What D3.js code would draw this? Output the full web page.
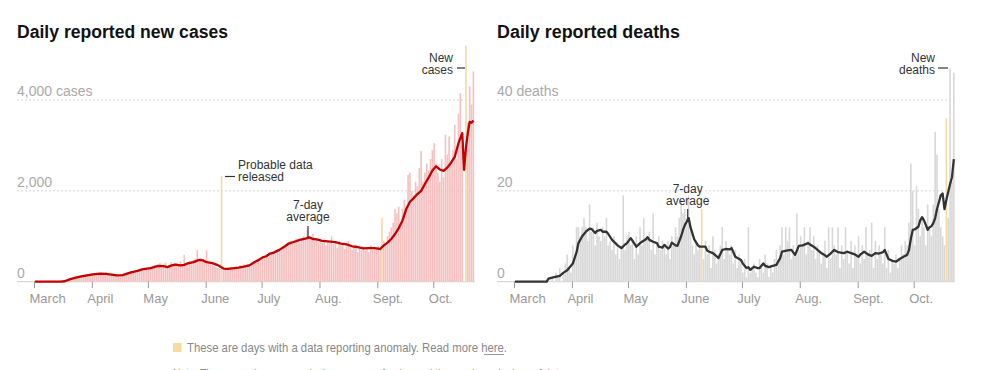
<!DOCTYPE html>
<html><head><meta charset="utf-8">
<script src="https://cdn.jsdelivr.net/npm/d3@7"></script>
<style>
body{margin:0;background:#fff;}
svg{display:block;font-family:"Liberation Sans",Arial,sans-serif;}
</style>
</head><body>
<svg id="c" width="1000" height="370"></svg>
<script>
// ---------- DATA ----------
const monthLabels = ["March","April","May","June","July","Aug.","Sept.","Oct."];

// Daily new cases, Mar 1 .. Oct 22 (236 days)
const casesDaily = [
  0,0,0,0,0,0,0,0,0,2,3,5,8,12,20,30,45,60,70,85,95,110,120,125,140,150,135,160,170,155,180,
  190,175,200,185,170,195,180,210,175,165,180,160,150,140,135,150,140,160,155,170,190,210,220,200,240,230,260,250,290,270,
  300,290,330,360,310,370,410,330,380,420,300,350,430,380,400,410,350,440,390,590,420,400,460,410,480,510,700,490,530,460,480,
  690,420,390,360,340,320,300,280,2330,250,270,290,300,310,280,330,320,300,360,340,380,350,400,390,420,450,430,480,470,510,
  520,560,600,540,580,620,650,600,700,680,720,750,800,780,850,900,830,880,950,900,870,960,1000,920,1150,980,950,1050,900,930,880,
  920,860,950,800,900,850,1000,830,870,750,900,800,850,720,780,900,760,700,800,820,650,750,700,780,690,760,650,800,700,750,720,
  780,700,1405,900,850,1000,1100,1200,1300,1600,1500,1650,1250,1600,1800,1650,2350,2400,2000,1900,2200,2100,2500,2880,2200,2400,2600,2450,2700,2900,
  3050,2600,2400,2200,2700,2300,3235,2800,3200,2600,2900,3455,2700,3700,4150,3000,0,5200,3500,4300,3900,4630
];
// 7-day average of cases, read at these day indexes
const casesAvgDays = [0,14,16,19,22,25,28,31,35,38,41,44,47,51,55,58,62,66,69,71,73,75,78,80,82,85,88,90,92,95,98,101,103,106,109,112,115,118,120,122,124,126,128,131,134,136,139,142,145,147,149,151,154,157,161,164,167,170,173,176,179,182,184,185,187,189,191,193,195,197,199,201,203,205,207,209,211,213,215,217,219,221,223,225,227,229,230,231,232,233,234,235];
const casesAvgValues = [0,2,10,55,90,115,140,160,180,170,155,140,145,200,240,275,300,350,345,320,355,375,360,370,405,430,480,470,430,410,365,290,280,295,310,330,360,440,480,535,560,620,640,700,780,840,880,920,950,975,940,930,900,890,870,840,820,780,760,735,740,740,730,720,800,860,940,1050,1180,1350,1600,1760,1840,1930,2000,2150,2290,2450,2540,2470,2440,2510,2620,2750,3050,3270,2460,2950,3280,3520,3500,3550];

const casesAnomalyDays = [100,186,231];

// Daily deaths, Mar 1 .. Oct 22
const deathsDaily = [
  0,0,0,0,0,0,0,0,0,0,0,0,0,0,0,0,0,0,1,0,1,0,2,1,3,0,2,4,6,3,2,
  8,6,12,12,10,12,14,12,9,17,11,12,8,13,10,9,12,10,14,8,9,7,10,6,8,5,8,19,7,10,
  11,8,9,5,10,6,12,8,14,9,10,11,7,15,6,8,10,7,9,8,6,9,5,10,8,12,10,14,18,15,16,
  14,19,12,8,6,9,7,8,16,5,9,6,8,3,10,7,4,6,8,12,5,9,7,6,8,4,7,3,6,4,
  2,5,1,12,2,3,4,2,1,5,3,2,6,4,1,3,2,5,7,4,8,12,6,12,9,12,5,8,6,15,7,
  10,8,12,6,9,12,7,10,5,8,7,4,6,9,3,12,5,12,8,6,12,3,8,5,12,7,4,9,3,8,6,
  10,4,8,5,12,6,7,13,3,9,5,8,6,4,12,3,7,2,5,4,6,3,5,8,6,9,8,13,26,20,
  8,21,16,10,14,12,8,17,12,10,17,33,28,16,12,10,8,36,14,47,22,46
];
const deathsAvgDays = [0,17,18,21,24,26,28,31,33,34,36,38,40,41,43,44,46,47,49,50,52,55,57,59,60,62,63,65,67,68,70,71,72,74,76,77,79,80,82,83,84,86,87,89,90,91,92,93,94,96,98,99,102,103,104,106,108,109,111,113,115,116,118,121,122,124,125,126,128,130,131,133,134,136,138,140,142,143,146,148,150,152,154,157,158,160,162,164,166,167,169,171,173,176,178,180,182,184,185,187,189,191,193,195,197,198,200,202,204,206,208,210,211,212,213,214,216,217,218,219,220,221,222,223,224,225,226,227,228,229,230,231,232,233,234,235];
const deathsAvgValues = [0,0,0.7,1,1.3,2,2.5,4,6.5,8.5,10,11,11.7,11.6,10.7,11.2,11.4,11,11,10.5,9.2,8,7.4,8.2,8.5,9.6,9,7.7,8.5,8.8,9.3,9.8,9.2,8.8,8.5,7.7,7.5,8.1,7.3,7.6,8.6,8,7.9,10,11.4,12.5,13.2,14,12,9.3,8,7.7,7.7,6.8,6.6,6.3,5.6,5.2,7,7.2,7.1,7.4,5.5,4.8,4,3,3.2,2.6,3.3,3,3,4,3.5,3.2,3.5,3.7,5.2,6.6,6.9,7,5.9,7.9,8,8.5,8.2,7.7,7,6.3,5.8,5.5,6.2,7,6.5,6.3,6.6,6.3,6,5.5,6,6.6,6,5.7,6.3,6.2,6.5,7,5,4.6,4.4,5,5.5,5.9,7,9.5,11.4,11.5,12.1,13.5,14.2,13.5,12.5,11.4,12,12.2,12.9,14,16,17.5,19,19.4,16,18,19.8,21.5,23,27];

const deathsAnomalyDays = [100,231];

const caseTicks = [0,2000,4000];
const caseTickLabels = ["0","2,000","4,000 cases"];
const deathTicks = [0,20,40];
const deathTickLabels = ["0","20","40 deaths"];

// ---------- DRAW ----------
const svg = d3.select("#c");
const startDate = new Date(Date.UTC(2020,2,1));
const endDate = new Date(Date.UTC(2020,9,23));
const months = d3.utcMonth.range(startDate, new Date(Date.UTC(2020,9,2)));
const dayDate = i => d3.utcDay.offset(startDate, i);
const baseY = 281.7;

function chart(o){
  const g = svg.append("g");
  const x = d3.scaleUtc().domain([startDate, endDate]).range([o.x0, o.x1]);
  const y = d3.scaleLinear().domain([0, o.yTop]).range([baseY, 100]);
  const step = x(dayDate(1)) - x(dayDate(0));

  g.append("text").attr("x", o.gx0).attr("y", 38)
    .attr("font-size", 17.5).attr("font-weight", "bold").attr("fill", "#121212")
    .attr("textLength", o.titleW).attr("lengthAdjust", "spacingAndGlyphs")
    .text(o.title);

  g.selectAll(".grid").data(o.ticks.slice(1)).join("line")
    .attr("x1", o.gx0).attr("x2", o.x1).attr("y1", d => y(d)).attr("y2", d => y(d))
    .attr("stroke", "#d4d4d4").attr("stroke-dasharray", "2,2").attr("stroke-width", 1);
  g.append("line").attr("x1", o.gx0).attr("x2", o.x1).attr("y1", baseY).attr("y2", baseY)
    .attr("stroke", "#cfcfcf").attr("stroke-width", 1);

  g.selectAll(".yl").data(o.ticks).join("text")
    .attr("x", o.gx0).attr("y", d => y(d) - 4)
    .attr("font-size", 14).attr("fill", "#aaa")
    .text((d,i) => o.tickLabels[i]);

  g.selectAll(".bar").data(o.daily).join("rect")
    .attr("x", (d,i) => x(dayDate(i)) + 0.1)
    .attr("width", step - 0.25)
    .attr("y", d => y(d))
    .attr("height", d => baseY - y(d))
    .attr("fill", (d,i) => o.anom.includes(i) ? "#f8d9a4" : o.barColor);

  const pts = o.avgDays.map((d,i) => [d, o.avgVals[i]]);
  g.append("path").datum(pts)
    .attr("fill", "none").attr("stroke", o.lineColor).attr("stroke-width", 2.3)
    .attr("stroke-linejoin", "round")
    .attr("d", d3.line().x(p => x(dayDate(p[0])) + step/2).y(p => y(p[1])));

  const ax = g.append("g").attr("transform", `translate(0,${baseY})`)
    .call(d3.axisBottom(x).tickValues(months).tickSize(6.5).tickFormat((d,i) => monthLabels[i]));
  ax.select(".domain").remove();
  ax.selectAll(".tick line").attr("stroke", "#999");
  ax.selectAll(".tick text").attr("fill", "#999").attr("font-size", 13)
    .attr("font-family", "Liberation Sans, Arial, sans-serif")
    .attr("text-anchor", "start").attr("x", -5).attr("y", 21.5).attr("dy", 0);

  return {g, x, y, step};
}

const L = chart({x0:34, x1:34+236*1.8659, gx0:17, yTop:4000, title:"Daily reported new cases", titleW:211,
  daily:casesDaily, avgDays:casesAvgDays, avgVals:casesAvgValues, anom:casesAnomalyDays,
  ticks:caseTicks, tickLabels:caseTickLabels, barColor:"#f4c0c0", lineColor:"#c40000"});
const R = chart({x0:514, x1:514+236*1.8677, gx0:497, yTop:40, title:"Daily reported deaths", titleW:183,
  daily:deathsDaily, avgDays:deathsAvgDays, avgVals:deathsAvgValues, anom:deathsAnomalyDays,
  ticks:deathTicks, tickLabels:deathTickLabels, barColor:"#d8d8d8", lineColor:"#333"});

function note(g, xx, yy, lines, anchor){
  lines.forEach((t,i) => g.append("text").attr("x", xx).attr("y", yy + i*12.3)
    .attr("font-size", 12).attr("fill", "#333").attr("text-anchor", anchor).text(t));
}
function seg(g, x1, y1, x2, y2){
  g.append("line").attr("x1", x1).attr("y1", y1).attr("x2", x2).attr("y2", y2)
    .attr("stroke", "#333").attr("stroke-width", 1.2);
}
note(L.g, 453, 62, ["New","cases"], "end");
seg(L.g, 457, 68, 465, 68);
note(L.g, 238, 169, ["Probable data","released"], "start");
seg(L.g, 225, 176.5, 235, 176.5);
note(L.g, 308, 209, ["7-day","average"], "middle");
seg(L.g, 308, 226, 308, 237);
note(R.g, 935, 62, ["New","deaths"], "end");
seg(R.g, 938, 68, 948, 68);
note(R.g, 687.7, 193, ["7-day","average"], "middle");
seg(R.g, 687.7, 209, 687.7, 221);

// footer
svg.append("rect").attr("x", 173).attr("y", 343).attr("width", 8.5).attr("height", 9).attr("fill", "#f8d9a4");
svg.append("text").attr("x", 187).attr("y", 352).attr("font-size", 13.5).attr("fill", "#888")
  .attr("textLength", 320).attr("lengthAdjust", "spacingAndGlyphs")
  .text("These are days with a data reporting anomaly. Read more here.");
svg.append("line").attr("x1", 484).attr("x2", 504).attr("y1", 354.5).attr("y2", 354.5)
  .attr("stroke", "#999").attr("stroke-width", 1);
svg.append("text").attr("x", 173).attr("y", 377.5).attr("font-size", 13.5).attr("fill", "#888")
  .attr("textLength", 394).attr("lengthAdjust", "spacingAndGlyphs")
  .text("Note: The seven-day average is the average of a day and the previous six days of data.");
</script>
</body></html>
